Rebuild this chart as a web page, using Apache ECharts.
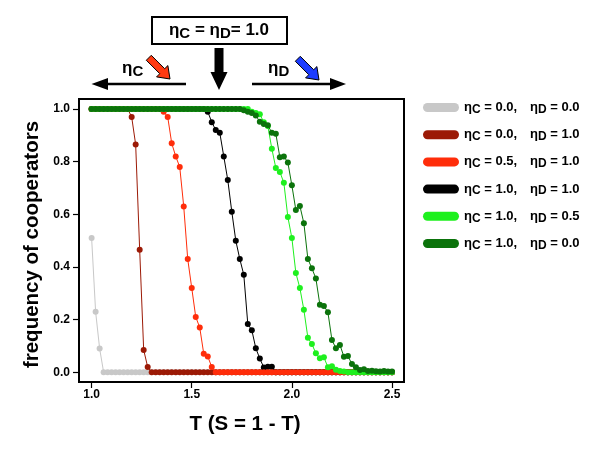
<!DOCTYPE html>
<html>
<head>
<meta charset="utf-8">
<script src="https://cdn.jsdelivr.net/npm/echarts@6/dist/echarts.min.js"></script>
<style>html,body{margin:0;padding:0;background:#fff;}#c{width:600px;height:462px;}</style>
</head>
<body>
<div id="c"></div>
<script>
// T values (x axis), step
const tValues = [
  1.00,1.02,1.04,1.06,1.08,1.10,1.12,1.14,1.16,1.18,
  1.20,1.22,1.24,1.26,1.28,1.30,1.32,1.34,1.36,1.38,
  1.40,1.42,1.44,1.46,1.48,1.50,1.52,1.54,1.56,1.58,
  1.60,1.62,1.64,1.66,1.68,1.70,1.72,1.74,1.76,1.78,
  1.80,1.82,1.84,1.86,1.88,1.90,1.92,1.94,1.96,1.98,
  2.00,2.02,2.04,2.06,2.08,2.10,2.12,2.14,2.16,2.18,
  2.20,2.22,2.24,2.26,2.28,2.30,2.32,2.34,2.36,2.38,
  2.40,2.42,2.44,2.46,2.48,2.50
];
// eta_C = 0.0, eta_D = 0.0
const seriesGray = [
  0.51,0.23,0.09,0,0,0,0,0,0,0,
  0,0,0,0,0,0,0,0,0,0,
  0,0,0,0,0,0,0,0,0,0,
  0,0,0,0,0,0,0,0,0,0,
  0,0,0,0,0,0,0,0,0,0,
  0,0,0,0,0,0,0,0,0,0,
  0,0,0,0,0,0,0,0,0,0,
  0,0,0,0,0,0
];
// eta_C = 0.0, eta_D = 1.0
const seriesDarkRed = [
  1,1,1,1,1,1,1,1,1,1,
  0.97,0.865,0.465,0.085,0.02,0,0,0,0,0,
  0,0,0,0,0,0,0,0,0,0,
  0,0,0,0,0,0,0,0,0,0,
  0,0,0,0,0,0,0,0,0,0,
  0,0,0,0,0,0,0,0,0,0,
  0,0,0,0,0,0,0,0,0,0,
  0,0,0,0,0,0
];
// eta_C = 0.5, eta_D = 1.0
const seriesRed = [
  1,1,1,1,1,1,1,1,1,1,
  1,1,1,1,1,1,1,1,0.99,0.97,
  0.87,0.82,0.78,0.63,0.43,0.32,0.21,0.17,0.07,0.06,
  0.02,0,0,0,0,0,0,0,0,0,
  0,0,0,0,0,0,0,0,0,0,
  0,0,0,0,0,0,0,0,0,0,
  0,0,0,0,0,0,0,0,0,0,
  0,0,0,0,0,0
];
// eta_C = 1.0, eta_D = 1.0
const seriesBlack = [
  1,1,1,1,1,1,1,1,1,1,
  1,1,1,1,1,1,1,1,1,1,
  1,1,1,1,1,1,1,1,1,0.99,
  0.95,0.92,0.91,0.82,0.73,0.61,0.50,0.43,0.37,0.183,
  0.16,0.091,0.052,0.018,0.021,0.021,0,0,0,0,
  0,0,0,0,0,0,0,0,0,0,
  0,0,0,0,0,0,0,0,0,0,
  0,0,0,0,0,0
];
// eta_C = 1.0, eta_D = 0.5
const seriesLightGreen = [
  1,1,1,1,1,1,1,1,1,1,
  1,1,1,1,1,1,1,1,1,1,
  1,1,1,1,1,1,1,1,1,1,
  1,1,1,1,1,1,1,1,1,1,
  0.99,0.985,0.98,0.95,0.935,0.849,0.776,0.761,0.72,0.59,
  0.51,0.377,0.32,0.237,0.131,0.107,0.072,0.053,0.057,0.019,
  0.023,0.01,0.005,0.003,0,0,0,0,0,0,
  0,0,0,0,0,0
];
// eta_C = 1.0, eta_D = 0.0
const seriesDarkGreen = [
  1,1,1,1,1,1,1,1,1,1,
  1,1,1,1,1,1,1,1,1,1,
  1,1,1,1,1,1,1,1,1,1,
  1,1,1,1,1,1,1,1,0.995,0.99,
  0.985,0.975,0.952,0.943,0.938,0.91,0.906,0.817,0.82,0.797,
  0.71,0.616,0.632,0.566,0.43,0.395,0.356,0.256,0.252,0.228,
  0.123,0.091,0.104,0.059,0.062,0.031,0.019,0.009,0.011,0.005,
  0.006,0.004,0.003,0.005,0.003,0.003
];
const etaC = ['0.0','0.0','0.5','1.0','1.0','1.0'];
const etaD = ['0.0','1.0','1.0','1.0','0.5','0.0'];
const xTicks = [1.0,1.5,2.0,2.5];
const yTicks = [0.0,0.2,0.4,0.6,0.8,1.0];
const colors = ['#c8c8c8','#9c1a06','#ff2d0a','#000000','#1ef01e','#0b730b'];
const seriesValues = [seriesGray,seriesDarkRed,seriesRed,seriesBlack,seriesLightGreen,seriesDarkGreen];
const drawOrder = [1,2,4,3,5,6];

const names = etaC.map((c,i)=>'ηC = '+c+', ηD = '+etaD[i]);
const FONT = 'Liberation Sans';

function arrowPts(tipX, tipY, len, headLen, headHW, shaftHW) {
  const d = [Math.SQRT1_2, Math.SQRT1_2], n = [-Math.SQRT1_2, Math.SQRT1_2];
  const local = [[0,0],[-headLen,headHW],[-headLen,shaftHW],[-len,shaftHW],[-len,-shaftHW],[-headLen,-shaftHW],[-headLen,-headHW]];
  return local.map(([a,b])=>[tipX + a*d[0] + b*n[0], tipY + a*d[1] + b*n[1]]);
}

const richBig = {
  m:{fontFamily:FONT,fontWeight:'bold',fontSize:17,lineHeight:22,color:'#000'},
  s:{fontFamily:FONT,fontWeight:'bold',fontSize:15,lineHeight:6,verticalAlign:'bottom',color:'#000'}
};

const chart = echarts.init(document.getElementById('c'), null, {renderer:'canvas'});
chart.setOption({
  animation:false,
  backgroundColor:'#fff',
  grid:{left:79,top:99,width:325,height:283,show:true,borderColor:'#000',borderWidth:2,backgroundColor:'transparent'},
  xAxis:{
    type:'value', min:0.937, max:2.56,
    name:'T (S = 1 - T)', nameLocation:'middle', nameGap:32,
    nameTextStyle:{fontFamily:FONT,fontWeight:'bold',fontSize:20.5,color:'#000',padding:[0,0,0,7]},
    axisLine:{show:true,onZero:false,lineStyle:{color:'#000',width:2}},
    axisTick:{show:true,customValues:xTicks,length:6,lineStyle:{color:'#000',width:1.2}},
    axisLabel:{customValues:xTicks,margin:7,formatter:v=>v.toFixed(1),fontFamily:FONT,fontWeight:'bold',fontSize:12,color:'#000'},
    splitLine:{show:false}
  },
  yAxis:{
    type:'value', min:-0.037, max:1.038,
    name:'frequency of cooperators', nameLocation:'middle', nameGap:34.5,
    nameTextStyle:{fontFamily:FONT,fontWeight:'bold',fontSize:20.5,color:'#000',padding:[0,8,0,0]},
    axisLine:{show:true,onZero:false,lineStyle:{color:'#000',width:2}},
    axisTick:{show:true,customValues:yTicks,length:6,lineStyle:{color:'#000',width:1.2}},
    axisLabel:{customValues:yTicks,margin:9,formatter:v=>v.toFixed(1),fontFamily:FONT,fontWeight:'bold',fontSize:12,color:'#000'},
    splitLine:{show:false}
  },
  legend:{
    orient:'vertical', left:423, top:101, padding:0, itemWidth:36, itemHeight:9, itemGap:12.7,
    icon:'path://M4.5,0 L31.5,0 A4.5,4.5 0 0 1 31.5,9 L4.5,9 A4.5,4.5 0 0 1 4.5,0 Z',
    data:names,
    formatter:function(name){
      const i = names.indexOf(name);
      return '{m|η}{s|C}{w| = '+etaC[i]+',}{m|η}{s|D}{m| = '+etaD[i]+'}';
    },
    textStyle:{
      fontFamily:FONT,fontWeight:'bold',fontSize:13,color:'#000',
      rich:{
        m:{fontFamily:FONT,fontWeight:'bold',fontSize:13,lineHeight:16,color:'#000'},
        w:{fontFamily:FONT,fontWeight:'bold',fontSize:13,lineHeight:16,width:49.5,color:'#000'},
        s:{fontFamily:FONT,fontWeight:'bold',fontSize:12,lineHeight:4,verticalAlign:'bottom',color:'#000'}
      }
    }
  },
  graphic:[
    {type:'rect',shape:{x:152,y:17,width:135,height:27},style:{fill:'#fff',stroke:'#000',lineWidth:2}},
    {type:'text',x:219,y:30,style:{text:'{m|η}{s|C}{m| = η}{s|D}{m|= 1.0}',rich:richBig,align:'center',verticalAlign:'middle'}},
    {type:'polygon',shape:{points:[[214.5,48],[223.5,48],[223.5,72],[227.5,72],[219,90],[210.5,72],[214.5,72]]},style:{fill:'#000'}},
    {type:'line',shape:{x1:186,y1:84,x2:104,y2:84},style:{stroke:'#000',lineWidth:2.5}},
    {type:'polygon',shape:{points:[[91.5,84],[108,78],[108,90]]},style:{fill:'#000'}},
    {type:'line',shape:{x1:252,y1:84,x2:333,y2:84},style:{stroke:'#000',lineWidth:2.5}},
    {type:'polygon',shape:{points:[[346,84],[330,78],[330,90]]},style:{fill:'#000'}},
    {type:'text',x:122,y:68,style:{text:'{m|η}{s|C}',rich:richBig,align:'left',verticalAlign:'middle'}},
    {type:'polygon',shape:{points:arrowPts(170,79,30,11,8,3.5)},style:{fill:'#ff3a12',stroke:'#000',lineWidth:1}},
    {type:'text',x:268,y:68,style:{text:'{m|η}{s|D}',rich:richBig,align:'left',verticalAlign:'middle'}},
    {type:'polygon',shape:{points:arrowPts(319,80,30,11,8,3.5)},style:{fill:'#1c3cff',stroke:'#000',lineWidth:1}}
  ],
  series:seriesValues.map((vals,i)=>({
    name:names[i],
    type:'line',
    z:drawOrder[i],
    data:tValues.map((t,k)=>[t,vals[k]]),
    symbol:'circle', symbolSize:6, showSymbol:true,
    lineStyle:{color:colors[i],width:1},
    itemStyle:{color:colors[i],borderWidth:0},
    emphasis:{disabled:true}
  }))
});
</script>
</body>
</html>
